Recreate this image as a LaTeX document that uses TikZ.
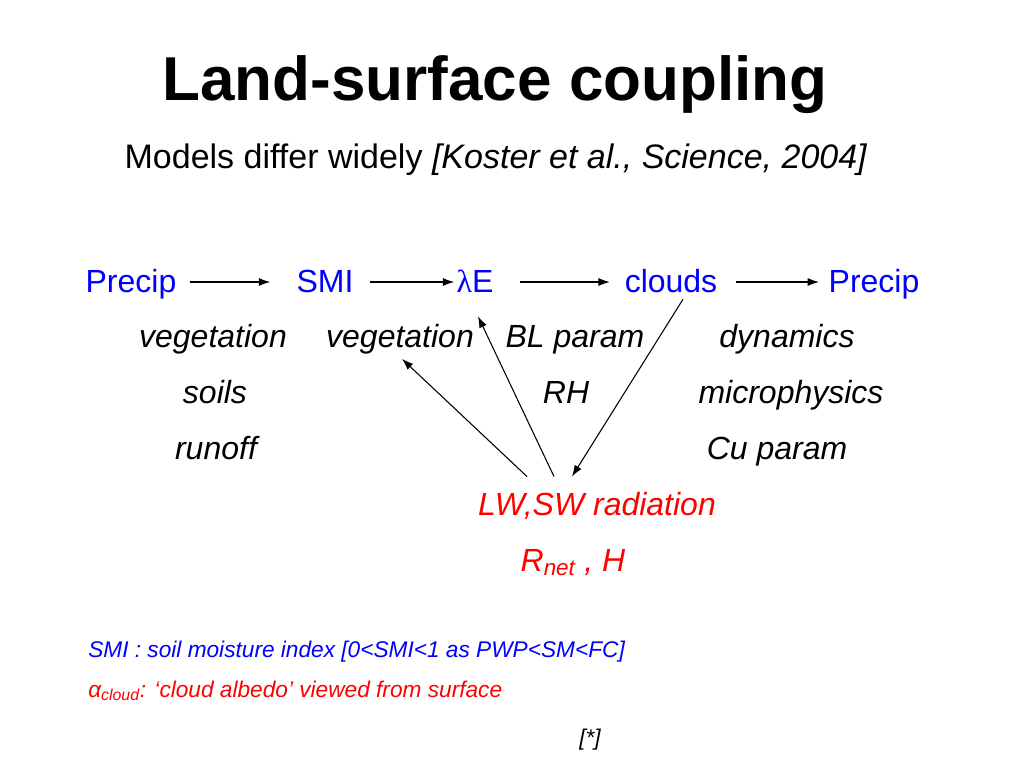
\documentclass[tikz,border=0pt]{standalone}
\usepackage{fontspec}
\setmainfont{Liberation Sans}
\newfontfamily\symbfont{Liberation Serif}
\usetikzlibrary{arrows.meta,positioning}

\begin{document}
\begin{tikzpicture}[x=0.75pt,y=-0.75pt,
        txt/.style={font=\fontsize{24}{29}\selectfont\itshape, inner sep=0pt, anchor=base},
        var/.style={txt, font=\fontsize{24}{29}\selectfont, text=blue, text height=15pt, text depth=0pt},
        note/.style={font=\fontsize{17}{20}\selectfont\itshape, inner sep=0pt, anchor=base west},
        arr/.style={->, >={Latex[length=8.5pt,width=6pt]}, line width=0.8pt}]
        \useasboundingbox (0,0) rectangle (1024,768);

        \node[font=\fontsize{46.5}{56}\selectfont\bfseries, anchor=base] (title) at (495,100) {Land-surface coupling};
        \node[font=\fontsize{25.5}{31}\selectfont, anchor=base] (sub) at (496,168) {Models differ widely \textit{[Koster et al., Science, 2004]}};

        % chain
        \node[var] (P1) at (131,292) {Precip};
        \node[var] (SMI) at (325,292) {SMI};
        \node[var] (LE) at (475,292) {{\symbfont λ}E};
        \node[var] (cl) at (671,292) {clouds};
        \node[var] (P2) at (874,292) {Precip};

        \draw[arr, shorten <=9.75pt, shorten >=19.5pt] (P1.east) -- (SMI.west);
        \draw[arr, shorten <=12pt, shorten >=1.5pt] (SMI.east) -- (LE.west);
        \draw[arr, shorten <=20pt, shorten >=11pt] (LE.east) -- (cl.west);
        \draw[arr, shorten <=14pt, shorten >=7pt] (cl.east) -- (P2.west);

        % processes
        \node[txt] (veg1) at (213,347) {vegetation};
        \node[txt] (veg2) at (400,347) {vegetation};
        \node[txt] (bl) at (575,347) {BL param};
        \node[txt] (dyn) at (787,347) {dynamics};

        \node[txt] (soils) at (215,403) {soils};
        \node[txt] (rh) at (566,403) {RH};
        \node[txt] (micro) at (791,403) {microphysics};

        \node[txt] (runoff) at (216,459) {runoff};
        \node[txt] (cu) at (777,459) {Cu param};

        \node[txt, text=red] (rad) at (597,515) {LW,SW radiation};
        \node[txt, text=red] (rnet) at (573,571) {R\textsubscript{net} , H};

        \draw[arr] ([shift={(-70,-15)}]rad.north) -- ([shift={(2,5)}]veg2.south);
        \draw[arr] ([shift={(-43,-15)}]rad.north) -- ([shift={(3,24)}]LE.south);
        \draw[arr] ([shift={(12,7)}]cl.south) -- ([shift={(-25,-15)}]rad.north);

        % notes
        \node[note, text=blue] (smidef) at (88,657) {SMI : soil moisture index [0<SMI<1 as PWP<SM<FC]};
        \node[note, text=red] (alb) at (88,697) {α\textsubscript{cloud}: ‘cloud albedo’ viewed from surface};
        \node[note, anchor=base] (ref) at (590,745) {[*]};
    \end{tikzpicture}
\end{document}
